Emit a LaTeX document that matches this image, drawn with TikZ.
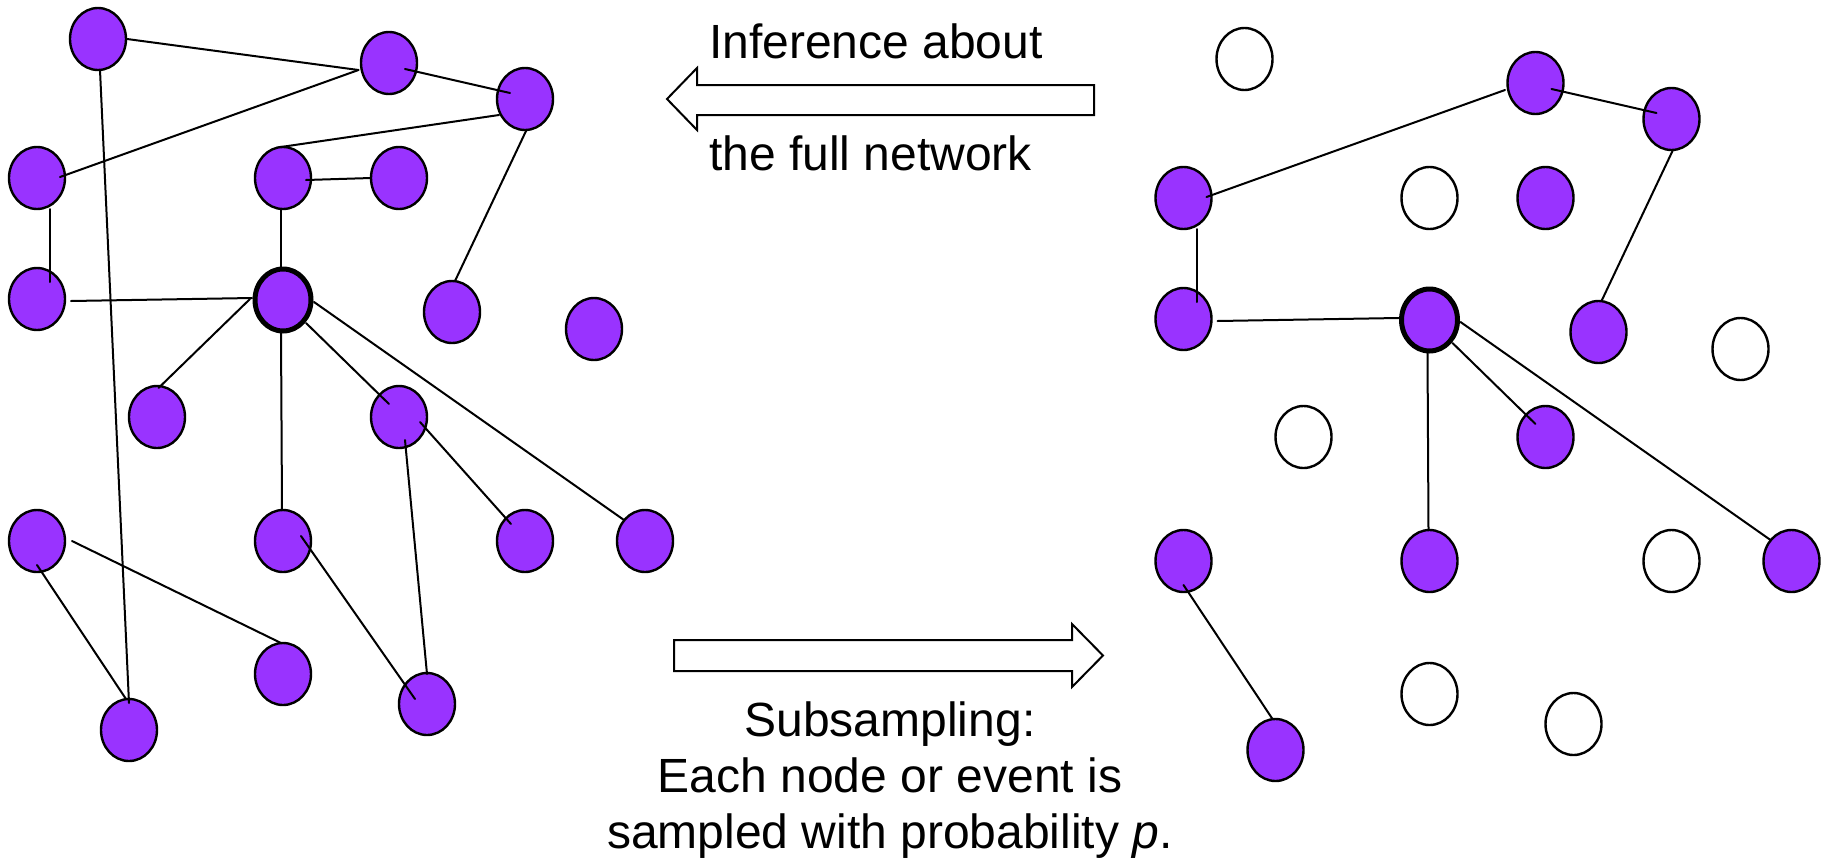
\documentclass[tikz,border=0pt]{standalone}
\usepackage{fontspec}
\setmainfont{Liberation Sans}
\usetikzlibrary{shapes.geometric}
\definecolor{nodepurple}{HTML}{9933FF}

\tikzset{
  vtx/.style={ellipse, draw=black, line width=2.4pt, fill=nodepurple,
    minimum width=56pt, minimum height=62pt, inner sep=0pt},
  vtxempty/.style={vtx, fill=white},
  hubvtx/.style={vtx, line width=5pt},
  link/.style={line width=2pt, black, line cap=round},
  bigarrow/.style={draw=black, fill=white, line width=2pt, line join=miter},
  lbl/.style={inner sep=0pt, font=\fontsize{48}{56}\selectfont},
}

% edge between two vertices, each end offset from the vertex centre
\newcommand\linkup[6]{\draw[link] ([shift={(#2,#3)}]#1.center) -- ([shift={(#5,#6)}]#4.center);}

\begin{document}
\begin{tikzpicture}[x=1pt, y=-1pt]
\useasboundingbox (0,0) rectangle (1831,860);

% ---------- full network ----------
\foreach \n/\px/\py/\s in {A/98/39/vtx, B/389/63/vtx, C/525/99/vtx,
    D/37/178/vtx, E/283/178/vtx, F/399/178/vtx,
    G/37/299/vtx, H/283/300/hubvtx, I/452/312/vtx, J/594/329/vtx,
    K/157/417/vtx, L/399/417/vtx,
    M/37/541/vtx, N/283/541/vtx, O/525/541/vtx, P/645/541/vtx,
    Q/283/674/vtx, R/427/704/vtx, S/129/730/vtx}
  {\node[\s] (\n) at (\px,\py) {};}

\foreach \a/\ax/\ay/\b/\bx/\by in {
    A/29/0/B/-30.5/7, B/-30.5/7/D/23/-1, B/16/6/C/-15/-6,
    C/-26/16/E/-2/-31, E/23/2/F/-28/0, E/-2/31/H/-2/-33,
    C/1/32/I/3/-31, D/13/31/G/13/-17, G/34/2/H/-31/-2,
    A/2/31/S/0/-27, H/-33/-1/K/1.5/-29, H/-2/32/N/-1/-31,
    H/23/23/L/-10/-13, H/31/2/P/-21/-21, L/21/5/O/-14/-17,
    L/6/23/R/0/-30, M/35/0/Q/-2/-31, M/0/24/S/-3/-31,
    N/18/-5/R/-12/-5}
  {\linkup{\a}{\ax}{\ay}{\b}{\bx}{\by}}

% ---------- subsampled network ----------
\begin{scope}[shift={(1146.5,20)}]
\foreach \n/\px/\py/\s in {A/98/39/vtxempty, B/389/63/vtx, C/525/99/vtx,
    D/37/178/vtx, E/283/178/vtxempty, F/399/178/vtx,
    G/37/299/vtx, H/283/300/hubvtx, I/452/312/vtx, J/594/329/vtxempty,
    K/157/417/vtxempty, L/399/417/vtx,
    M/37/541/vtx, N/283/541/vtx, O/525/541/vtxempty, P/645/541/vtx,
    Q/283/674/vtxempty, R/427/704/vtxempty, S/129/730/vtx}
  {\node[\s] (r\n) at (\px,\py) {};}
\end{scope}

\foreach \a/\ax/\ay/\b/\bx/\by in {
    B/-30.5/7/D/23/-1, B/16/6/C/-15/-6, C/1/32/I/3/-31,
    D/13/31/G/13/-17, G/34/2/H/-31/-2, H/-2/32/N/-1/-31,
    H/23/23/L/-10/-13, H/31/2/P/-21/-21, M/0/24/S/-3/-31}
  {\linkup{r\a}{\ax}{\ay}{r\b}{\bx}{\by}}

% ---------- block arrows ----------
\draw[bigarrow] (667,99) -- (697,68) -- (697,85) -- (1094,85) -- (1094,115)
  -- (697,115) -- (697,130) -- cycle;
\draw[bigarrow] (674,640) -- (1072,640) -- (1072,624) -- (1103,655.5)
  -- (1072,687) -- (1072,671) -- (674,671) -- cycle;

% ---------- labels ----------
\node[lbl, anchor=base west] (inf1) at (709,58) {Inference about};
\node[lbl, anchor=base west] (inf2) at (709,170) {the full network};
\node[lbl, anchor=base] (sub1) at (890,736) {Subsampling:};
\node[lbl, anchor=base] (sub2) at (890,792) {Each node or event is};
\node[lbl, anchor=base] (sub3) at (890,848) {sampled with probability \textit{p}.};
\end{tikzpicture}
\end{document}
